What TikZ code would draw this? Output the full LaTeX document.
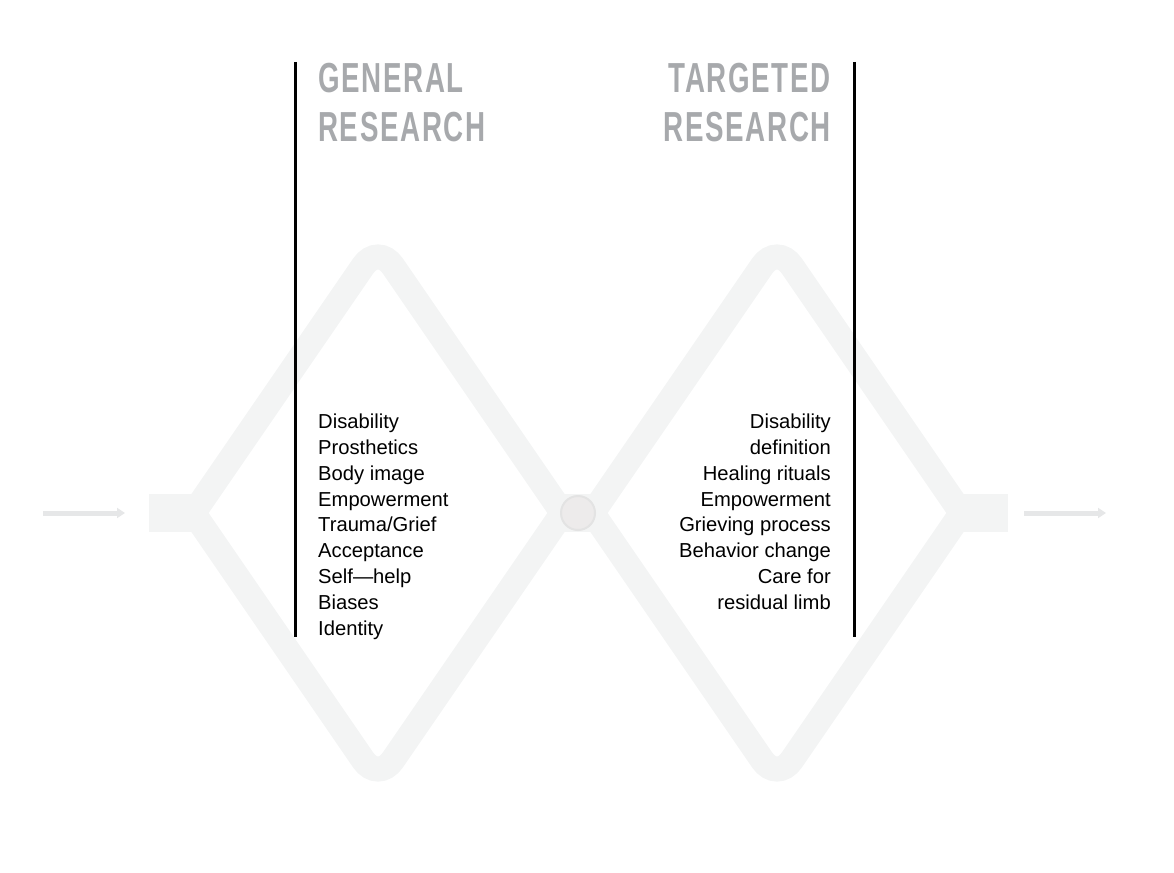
\documentclass[tikz,border=0pt]{standalone}
\usepackage{fontspec}
\setmainfont{Liberation Sans}
\newfontfamily\headfont[FakeStretch=0.66,LetterSpace=4]{Liberation Sans}
\usetikzlibrary{arrows.meta}
\definecolor{trackgray}{HTML}{F3F4F4}
\definecolor{flowgray}{HTML}{E6E7E8}
\definecolor{headgray}{HTML}{A7A9AC}
\definecolor{dotfill}{HTML}{EDEBEB}
\definecolor{dotline}{HTML}{E3E3E3}
\begin{document}
\begin{tikzpicture}[x=1pt,y=-1pt,
   track/.style={draw=trackgray, line width=25pt, line cap=round, rounded corners=26pt},
   flow/.style={draw=flowgray, line width=5pt, -{Triangle[length=8pt,width=10pt]}},
   divider/.style={draw=black, line width=3pt},
   heading/.style={inner sep=0pt, text=headgray, font=\headfont\bfseries\fontsize{42}{49}\selectfont},
   topics/.style={inner sep=0pt, font=\fontsize{20.2}{25.9}\selectfont}]
   \useasboundingbox (0,0) rectangle (1174,872);
   % the two diamonds
   \foreach \cx in {378,777} {
      \path[track] (\cx-184.5,513) -- (\cx,244.4) -- (\cx+184.5,513);
      \path[track] (\cx-184.5,513) -- (\cx,781.6) -- (\cx+184.5,513);
   }
   \fill[trackgray] (149,494) rectangle (200,532);
   \fill[trackgray] (550,494) rectangle (605,532);
   \fill[trackgray] (955,494) rectangle (1008,532);
   \node[circle, draw=dotline, fill=dotfill, line width=2pt, minimum size=34pt, inner sep=0pt] (mid) at (578,513) {};
   % in and out
   \coordinate (in0) at (43,513);
   \coordinate (in1) at (125,513);
   \coordinate (out0) at (1024,513);
   \coordinate (out1) at (1106,513);
   \draw[flow] (in0) -- (in1);
   \draw[flow] (out0) -- (out1);
   % dividers
   \coordinate (gtop) at (295,62);
   \coordinate (gbot) at (295,637);
   \coordinate (ttop) at (854,62);
   \coordinate (tbot) at (854,637);
   \draw[divider] (gtop) -- (gbot);
   \draw[divider] (ttop) -- (tbot);
   % labels
   \node[heading, anchor=north west, align=left] (general) at (318,63) {GENERAL\\RESEARCH};
   \node[heading, anchor=north east, align=right] (targeted) at (831,63) {TARGETED\\RESEARCH};
   \node[topics, anchor=north west, align=left] (glist) at (318,413.5)
      {Disability\\Prosthetics\\Body image\\Empowerment\\Trauma/Grief\\Acceptance\\Self—help\\Biases\\Identity};
   \node[topics, anchor=north east, align=right] (tlist) at (831,413.5)
      {Disability\\definition\\Healing rituals\\Empowerment\\Grieving process\\Behavior change\\Care for\\residual limb};
\end{tikzpicture}
\end{document}
